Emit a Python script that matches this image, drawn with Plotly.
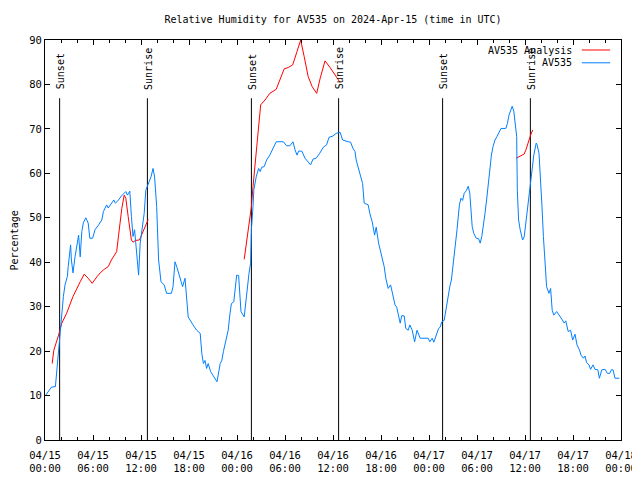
import pandas as pd
import plotly.graph_objects as go

# ---------------- data ----------------
base_time = "2024-04-15 00:00"

blue_hours = [0.1, 0.8, 1.3, 1.6, 1.9, 2.1, 2.3, 2.5, 2.8, 2.9, 3.2, 3.3, 3.5, 3.75, 4.0, 4.2, 4.4, 4.6, 4.8, 5.1,
              5.4, 5.6, 5.95, 6.25, 6.7, 7.1, 7.3, 7.7, 7.9, 8.3, 8.6, 8.8, 9.1, 9.6, 10.1, 10.3, 10.6, 10.8, 11.0,
              11.2, 11.5, 11.7, 11.9, 12.1, 12.4, 12.6, 12.9, 13.25, 13.5, 13.7, 13.96, 14.2, 14.5, 14.9, 15.2, 15.8,
              16.0, 16.25, 16.5, 16.9, 17.2, 17.5, 17.7, 17.9, 18.5, 18.96, 19.4, 19.6, 19.8, 20.0, 20.2, 20.4, 20.7,
              21.0, 21.5, 21.9, 22.1, 22.3, 22.7, 22.9, 23.1, 23.3, 23.6, 23.75, 23.96, 24.2, 24.3, 24.5, 24.9, 25.2,
              25.5, 25.7, 25.8, 26.0, 26.1, 26.4, 26.7, 26.9, 27.1, 27.4, 27.7, 28.1, 28.5, 28.9, 29.8, 30.2, 30.6,
              31.0, 31.25, 31.5, 31.7, 32.1, 32.5, 32.9, 33.2, 33.5, 33.9, 34.3, 34.8, 35.2, 35.5, 36.0, 36.4, 36.9,
              37.2, 37.9, 38.2, 38.5, 38.75, 38.9, 39.2, 39.5, 39.7, 39.9, 40.4, 40.6, 40.9, 41.2, 41.4, 41.7, 42.1,
              42.4, 42.6, 42.9, 43.2, 43.5, 43.75, 43.96, 44.2, 44.4, 44.6, 44.9, 45.1, 45.4, 45.6, 45.9, 46.2, 46.5,
              46.9, 47.9, 48.1, 48.4, 48.6, 49.0, 49.2, 49.4, 49.6, 49.9, 50.1, 50.4, 50.6, 50.8, 51.0, 51.25, 51.5,
              51.8, 52.0, 52.2, 52.4, 52.7, 52.9, 53.1, 53.25, 53.4, 53.6, 53.9, 54.2, 54.4, 54.6, 54.8, 55.0, 55.2,
              55.4, 55.6, 55.8, 56.0, 56.25, 56.5, 56.8, 57.0, 57.6, 57.8, 58.0, 58.2, 58.4, 58.6, 58.8, 58.96, 59.04,
              59.2, 59.4, 59.7, 59.9, 60.1, 60.3, 60.5, 60.75, 60.9, 61.1, 61.4, 61.5, 61.75, 61.96, 62.1, 62.3, 62.5,
              62.7, 63.0, 63.2, 63.4, 63.6, 63.96, 64.3, 64.6, 64.9, 65.1, 65.4, 65.7, 65.96, 66.25, 66.5, 66.8, 67.0,
              67.3, 67.5, 67.7, 68.0, 68.2, 68.5, 68.75, 69.1, 69.3, 69.6, 70.0, 70.3, 70.6, 70.8, 71.0, 71.25, 71.8]
blue_values = [10.1, 11.9, 12.0, 18.7, 24.0, 28.5, 32.3, 34.9, 36.8, 39.0, 43.9, 40.5, 37.6, 41.2, 43.5, 46.1, 41.2,
               46.9, 48.9, 50.0, 48.8, 45.4, 45.4, 47.3, 48.4, 49.5, 51.4, 52.9, 52.2, 53.3, 54.0, 53.3, 53.8, 55.0,
               55.9, 55.1, 56.0, 50.3, 45.8, 47.3, 39.8, 37.1, 44.3, 47.0, 51.0, 56.2, 57.4, 59.2, 61.1, 59.2, 52.5,
               40.5, 35.6, 34.9, 33.0, 33.0, 34.5, 40.1, 38.8, 36.0, 34.5, 36.4, 32.3, 27.7, 25.9, 24.7, 24.0, 19.5,
               17.2, 17.9, 16.1, 17.2, 15.4, 14.6, 13.1, 17.2, 17.9, 19.9, 22.9, 24.7, 28.1, 30.7, 31.1, 34.1, 37.1,
               37.0, 34.9, 28.9, 27.7, 33.0, 37.5, 39.8, 47.3, 52.5, 56.2, 59.2, 61.1, 60.4, 61.4, 61.5, 63.0, 64.1,
               65.6, 67.1, 67.1, 66.2, 66.2, 67.1, 65.3, 64.1, 65.0, 65.0, 63.4, 62.6, 61.9, 63.2, 63.4, 64.4, 65.9,
               66.4, 68.1, 68.4, 69.0, 69.2, 67.5, 67.1, 67.0, 65.6, 64.9, 63.0, 61.1, 59.2, 57.7, 53.3, 52.9, 51.0,
               49.1, 46.1, 47.9, 44.3, 41.2, 39.0, 36.4, 34.1, 34.9, 32.3, 30.4, 29.9, 28.1, 26.3, 28.0, 27.9, 25.1,
               24.7, 25.9, 24.7, 22.1, 24.7, 22.9, 22.9, 22.1, 22.9, 22.0, 23.8, 25.1, 25.4, 26.6, 26.9, 29.2, 31.9,
               34.5, 36.0, 39.0, 43.5, 47.3, 52.9, 54.4, 53.9, 55.5, 56.2, 57.1, 55.5, 51.7, 48.0, 46.5, 45.4, 45.3,
               44.3, 45.8, 48.0, 51.0, 54.0, 57.8, 61.5, 64.1, 66.0, 67.5, 68.3, 69.4, 70.1, 70.1, 71.2, 73.1, 74.2,
               75.1, 74.0, 71.2, 68.3, 56.2, 49.5, 47.3, 45.0, 45.7, 48.8, 51.7, 55.5, 59.2, 61.5, 64.1, 66.8, 66.5,
               64.5, 59.2, 53.3, 45.8, 39.8, 34.5, 33.0, 34.1, 29.2, 28.1, 28.9, 28.1, 27.2, 26.3, 26.8, 24.4, 24.7,
               22.5, 23.8, 21.4, 20.3, 19.1, 18.4, 18.9, 17.4, 16.9, 15.9, 16.9, 15.9, 15.8, 13.9, 15.8, 15.9, 15.0,
               15.0, 15.8, 15.8, 13.9, 13.9]

red_hours = [0.9, 1.1, 1.7, 2.1, 2.7, 3.5, 4.4, 4.9, 5.4, 5.9, 6.5, 6.9, 7.4, 7.9, 8.3, 8.96, 9.2, 9.4, 9.6, 9.9,
             10.1, 10.4, 10.6, 10.8, 11.0, 11.3, 11.8, 12.1, 12.4, 12.7, 12.9, None,
             24.9, 25.2, 25.5, 25.8, 26.0, 26.25, 26.5, 26.7, 26.96, 27.5, 28.1, 28.9, 29.4, 29.9, 30.4, 30.96,
             31.5, 31.96, 32.4, 32.9, 33.4, 33.96, 34.4, 35.0, 35.6, 36.25, 36.9, None,
             58.9, 59.4, 59.9, 60.1, 60.4, 60.7, 60.96]
red_values = [17.2, 20.2, 23.6, 26.3, 28.5, 32.3, 35.6, 37.3, 36.4, 35.25, 36.75, 37.6, 38.4, 39.0, 40.5, 42.4,
              46.1, 49.5, 52.1, 55.1, 54.4, 50.25, 47.25, 45.0, 44.5, 44.9, 45.0, 46.35, 47.6, 48.9, 49.6, None,
              40.65, 44.3, 48.0, 52.5, 57.0, 62.25, 66.75, 71.25, 75.4, 76.5, 78.0, 78.9, 81.0, 83.5, 83.8, 84.4,
              87.4, 90.0, 86.25, 81.75, 79.5, 78.0, 81.4, 85.3, 83.9, 82.1, 80.4, None,
              63.4, 63.9, 64.35, 65.2, 67.1, 68.6, 69.75]

sun_hours = [1.83, 12.8, 25.8, 36.7, 49.7, 60.67]
sun_labels = ["Sunset", "Sunrise", "Sunset", "Sunrise", "Sunset", "Sunrise"]
sun_line_top = 76.9
sun_label_base = 78.4

tick_hours = [0, 6, 12, 18, 24, 30, 36, 42, 48, 54, 60, 66, 72]
tick_labels = ["04/15<br>00:00", "04/15<br>06:00", "04/15<br>12:00", "04/15<br>18:00",
               "04/16<br>00:00", "04/16<br>06:00", "04/16<br>12:00", "04/16<br>18:00",
               "04/17<br>00:00", "04/17<br>06:00", "04/17<br>12:00", "04/17<br>18:00",
               "04/18<br>00:00"]
y_ticks = [0, 10, 20, 30, 40, 50, 60, 70, 80, 90]

title_text = "Relative Humidity for AV535 on 2024-Apr-15 (time in UTC)"
series_names = ["AV535 Analysis", "AV535"]
series_colors = ["#ff0000", "#0080ff"]

# ---------------- helpers ----------------
t0 = pd.Timestamp(base_time)


def to_time(hours):
    return [None if h is None else t0 + pd.Timedelta(hours=h) for h in hours]


FONT = "DejaVu Sans Mono"
fig = go.Figure()

# sunrise / sunset lines
for h in sun_hours:
    fig.add_trace(go.Scatter(x=to_time([h, h]), y=[0, sun_line_top], mode="lines",
                             line=dict(color="black", width=1), showlegend=False, hoverinfo="skip"))

fig.add_trace(go.Scatter(x=to_time(red_hours), y=red_values, mode="lines", name=series_names[0],
                         line=dict(color=series_colors[0], width=1), connectgaps=False, showlegend=False))
fig.add_trace(go.Scatter(x=to_time(blue_hours), y=blue_values, mode="lines", name=series_names[1],
                         line=dict(color=series_colors[1], width=1), showlegend=False))

for h, lab in zip(sun_hours, sun_labels):
    fig.add_annotation(x=to_time([h])[0], y=sun_label_base, text=lab, textangle=-90, showarrow=False,
                       xanchor="center", yanchor="bottom", xshift=1,
                       font=dict(family=FONT, size=10, color="black"))

# custom legend (text right, sample line on right)
legend_rows = [0.975, 0.943]
for name, col, yy in zip(series_names, series_colors, legend_rows):
    fig.add_annotation(x=0.918, y=yy, xref="paper", yref="paper", text=name, showarrow=False,
                       xanchor="right", yanchor="middle", font=dict(family=FONT, size=10, color="black"))
    fig.add_shape(type="line", xref="paper", yref="paper", x0=0.932, x1=0.981, y0=yy, y1=yy,
                  line=dict(color=col, width=1))

# y axis label
fig.add_annotation(x=-0.053, y=0.5, xref="paper", yref="paper", text="Percentage", textangle=-90,
                   showarrow=False, xanchor="center", yanchor="middle",
                   font=dict(family=FONT, size=10, color="black"))

# the page body adds an 8px offset, so the figure is 8px smaller on the left/top
fig.update_layout(
    width=632, height=472,
    margin=dict(l=37, r=19, t=32, b=40, autoexpand=False),
    paper_bgcolor="white", plot_bgcolor="white",
    font=dict(family=FONT, size=10, color="black"),
    title=dict(text=title_text, x=0.5, xref="paper", xanchor="center", y=1 - 11 / 472, yanchor="middle",
               font=dict(family=FONT, size=10, color="black"), automargin=False),
    showlegend=False,
)
fig.update_xaxes(
    range=to_time([0, 72]), tickvals=to_time(tick_hours), ticktext=tick_labels, automargin=False,
    showgrid=False, zeroline=False, showline=True, linecolor="black", linewidth=1, mirror="ticks",
    ticks="inside", ticklen=5, tickcolor="black", ticklabelstandoff=5,
    minor=dict(dtick=2 * 3600 * 1000, tick0=to_time([0])[0], ticks="inside", ticklen=3, tickcolor="black",
               showgrid=False),
    tickfont=dict(family=FONT, size=10.5, color="black"),
)
fig.update_yaxes(
    range=[0, 90], tickvals=y_ticks, showgrid=False, zeroline=False, showline=True, linecolor="black",
    linewidth=1, mirror="ticks", ticks="inside", ticklen=5, tickcolor="black", automargin=False,
    tickfont=dict(family=FONT, size=10.5, color="black"),
)

fig.write_html("out.html")
